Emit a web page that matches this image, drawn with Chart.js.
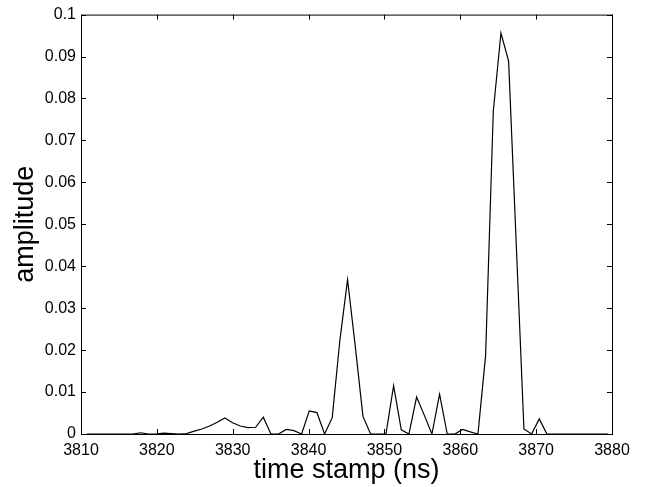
<!DOCTYPE html>
<html>
<head>
<meta charset="utf-8">
<script src="https://cdn.jsdelivr.net/npm/chart.js@4"></script>
<style>
  html, body { margin: 0; padding: 0; background: #fff; }
  #wrap { width: 648px; height: 487px; }
</style>
</head>
<body>
<div id="wrap"><canvas id="myChart" width="648" height="487"></canvas></div>
<script>
// sample times (ns)
var times = [3810.78, 3811.79, 3812.80, 3813.81, 3814.82, 3815.83, 3816.84, 3817.86, 3818.87, 3819.88,
    3820.89, 3821.90, 3822.91, 3823.92, 3824.93, 3825.94, 3826.95, 3827.96, 3828.97, 3829.98,
    3830.99, 3832.00, 3833.02, 3834.03, 3835.04, 3836.05, 3837.06, 3838.07, 3839.08, 3840.09,
    3841.10, 3842.11, 3843.12, 3844.13, 3845.14, 3846.15, 3847.17, 3848.18, 3849.19, 3850.20,
    3851.21, 3852.22, 3853.23, 3854.24, 3855.25, 3856.26, 3857.27, 3858.28, 3859.29, 3860.30,
    3861.32, 3862.33, 3863.34, 3864.35, 3865.36, 3866.37, 3867.38, 3868.39, 3869.40, 3870.41,
    3871.42, 3872.43, 3873.44, 3874.45, 3875.46, 3876.47, 3877.49, 3878.50, 3879.51];

var amplitude = [0, 0, 0, 0, 0, 0, 0, 0.0003, 0, 0,
    0.0002, 0.0001, 0, 0.0001, 0.0007, 0.0012, 0.0019, 0.0028, 0.0038, 0.0027,
    0.0019, 0.0015, 0.0016, 0.0040, 0, 0, 0.0011, 0.0008, 0, 0.0055,
    0.0051, 0, 0.0039, 0.0224, 0.0368, 0.0210, 0.0042, 0, 0, 0,
    0.0115, 0.0010, 0, 0.0088, 0.0045, 0, 0.0095, 0, 0, 0.0011,
    0.0005, 0, 0.0188, 0.0769, 0.0956, 0.0889, 0.0452, 0.0012, 0, 0.0036,
    0, 0, 0, 0, 0, 0, 0, 0, 0];

var xTicks = [3810, 3820, 3830, 3840, 3850, 3860, 3870, 3880];
var yTicks = [0, 0.01, 0.02, 0.03, 0.04, 0.05, 0.06, 0.07, 0.08, 0.09, 0.1];

var FONT = '"Liberation Sans", Arial, Helvetica, sans-serif';

// MATLAB-style box with inward ticks on all four sides
var boxTicks = {
    id: 'boxTicks',
    afterDraw: function(chart) {
        var c = chart.ctx, a = chart.chartArea;
        var xs = chart.scales.x, ys = chart.scales.y;
        var len = 5;
        c.save();
        c.strokeStyle = '#000';
        c.lineWidth = 1;
        c.strokeRect(a.left + 0.5, a.top + 0.5, a.right - a.left, a.bottom - a.top);
        c.beginPath();
        xTicks.forEach(function(v) {
            var px = Math.round(xs.getPixelForValue(v)) + 0.5;
            c.moveTo(px, a.bottom); c.lineTo(px, a.bottom - len);
            c.moveTo(px, a.top); c.lineTo(px, a.top + len);
        });
        yTicks.forEach(function(v) {
            var py = Math.round(ys.getPixelForValue(v)) + 0.5;
            c.moveTo(a.left, py); c.lineTo(a.left + len, py);
            c.moveTo(a.right, py); c.lineTo(a.right - len, py);
        });
        c.stroke();
        c.restore();
    }
};

new Chart(document.getElementById('myChart'), {
    type: 'line',
    data: {
        datasets: [{
            data: times.map(function(t, i) { return { x: t, y: amplitude[i] }; }),
            borderColor: '#000',
            borderWidth: 1.2,
            pointRadius: 0,
            tension: 0,
            fill: false
        }]
    },
    options: {
        responsive: false,
        animation: false,
        layout: { padding: { top: 14, right: 36, left: 0, bottom: 0 } },
        plugins: { legend: { display: false }, tooltip: { enabled: false } },
        scales: {
            x: {
                type: 'linear',
                min: 3810, max: 3880,
                afterBuildTicks: function(s) { s.ticks = xTicks.map(function(v) { return { value: v }; }); },
                afterFit: function(s) { s.height = 53; },
                grid: { drawOnChartArea: false, drawTicks: false },
                border: { display: false },
                ticks: {
                    color: '#000', padding: 7, maxRotation: 0, font: { family: FONT, size: 16 },
                    callback: function(v) { return String(v); }
                },
                title: { display: true, text: 'time stamp (ns)', color: '#000', padding: { top: 0, bottom: 0 },
                    font: { family: FONT, size: 27 } }
            },
            y: {
                min: 0, max: 0.1,
                afterBuildTicks: function(s) { s.ticks = yTicks.map(function(v) { return { value: v }; }); },
                afterFit: function(s) { s.width = 81; },
                grid: { drawOnChartArea: false, drawTicks: false },
                border: { display: false },
                ticks: {
                    color: '#000', padding: 5, font: { family: FONT, size: 16 },
                    callback: function(v) { return String(Number(v.toFixed(2))); }
                },
                title: { display: true, text: 'amplitude', color: '#000', padding: { top: 9, bottom: 0 },
                    font: { family: FONT, size: 27 } }
            }
        }
    },
    plugins: [boxTicks]
});
</script>
</body>
</html>
